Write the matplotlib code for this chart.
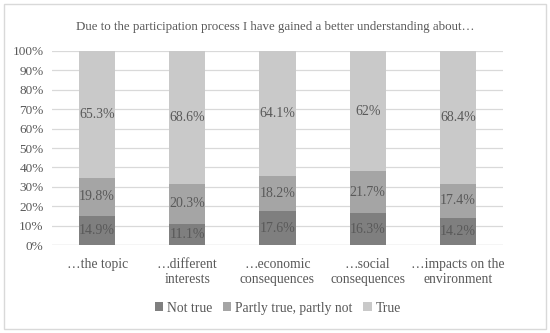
import matplotlib.pyplot as plt
import numpy as np

# Data
categories = ['\u2026the topic', '\u2026different\ninterests', '\u2026economic\nconsequences',
              '\u2026social\nconsequences', '\u2026impacts on the\nenvironment']
not_true = [14.9, 11.1, 17.6, 16.3, 14.2]
partly = [19.8, 20.3, 18.2, 21.7, 17.4]
true_vals = [65.3, 68.6, 64.1, 62.0, 68.4]
series_names = ['Not true', 'Partly true, partly not', 'True']
colors = ['#7f7f7f', '#a5a5a5', '#c9c9c9']

plt.rcParams['font.family'] = ['Liberation Serif', 'DejaVu Serif']
text_col = '#595959'

fig = plt.figure(figsize=(5.5, 3.33), dpi=100)
ax = fig.add_axes([0.0945, 0.264, 0.82, 0.583])

x = np.arange(len(categories))
series = [not_true, partly, true_vals]
bottom = np.zeros(len(categories))
for vals, name, col in zip(series, series_names, colors):
    vals = np.array(vals)
    ax.bar(x, vals, 0.4, bottom=bottom, color=col, label=name, zorder=2)
    for xi, b, v in zip(x, bottom, vals):
        lab = f'{v:g}%'
        ax.text(xi, b + v / 2, lab, ha='center', va='center', fontsize=10,
                color=text_col, zorder=3)
    bottom += vals

ax.set_xlim(-0.5, len(categories) - 0.5)
ax.set_ylim(0, 100)
ax.set_yticks(np.arange(0, 101, 10))
ax.set_yticklabels([f'{t}%' for t in range(0, 101, 10)], fontsize=9.5, color=text_col)
ax.set_xticks(x)
ax.set_xticklabels(categories, fontsize=9.8, color=text_col, linespacing=1.25)
ax.tick_params(length=0, pad=6)
ax.tick_params(axis='x', pad=9)
ax.yaxis.grid(True, color='#d9d9d9', lw=0.9, zorder=0)
ax.set_axisbelow(True)
for s in ax.spines.values():
    s.set_visible(False)
ax.axhline(0, color='#d9d9d9', lw=0.9, zorder=1)

fig.text(0.5, 0.918, 'Due to the participation process I have gained a better understanding about\u2026',
         ha='center', va='center', fontsize=9.3, color=text_col)

ax.legend(loc='center', bbox_to_anchor=(0.505, 0.075), bbox_transform=fig.transFigure,
          ncol=3, frameon=False, fontsize=9.8, labelcolor=text_col,
          handlelength=0.6, handleheight=0.6, handletextpad=0.3, columnspacing=0.8)

# outer border
fig.add_artist(plt.Rectangle((0.008, 0.012), 0.984, 0.976, transform=fig.transFigure,
                             fill=False, edgecolor='#d9d9d9', lw=1))

fig.savefig('out.png', dpi=100)
